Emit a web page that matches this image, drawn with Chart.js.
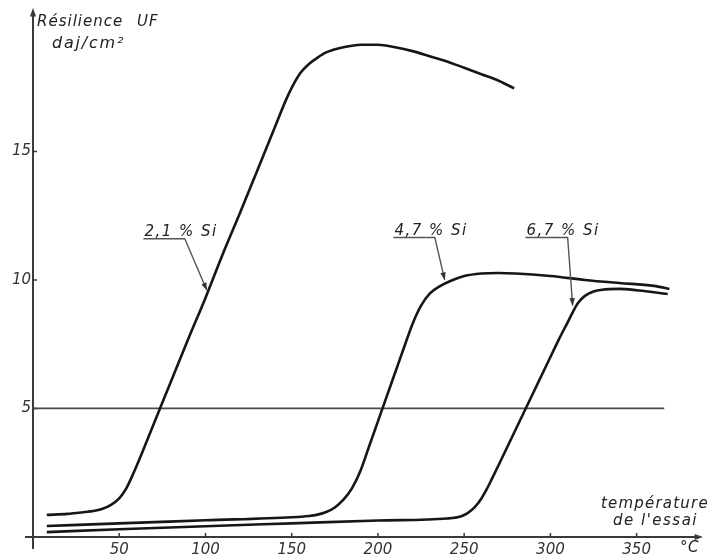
<!DOCTYPE html>
<html>
<head>
<meta charset="utf-8">
<script src="https://cdn.jsdelivr.net/npm/chart.js@4/dist/chart.umd.min.js"></script>
<style>
  html, body { margin: 0; padding: 0; background: #fff; }
  #chart { display: block; }
</style>
</head>
<body>
<canvas id="chart" width="711" height="555"></canvas>
<script>
'use strict';

// test temperature (°C) and UF resilience (daj/cm²)
const si21Temp = [8, 20, 30, 35, 40, 45, 50, 54, 58, 62, 70, 80, 90, 100, 110, 120, 130, 140, 148, 155, 160, 165, 170, 180, 190, 200, 210, 220, 230, 240, 250, 260, 270, 279];
const si21Res  = [0.86, 0.9, 0.97, 1.01, 1.09, 1.24, 1.5, 1.88, 2.44, 3.07, 4.4, 6.05, 7.7, 9.3, 11.0, 12.6, 14.25, 15.9, 17.2, 18.05, 18.4, 18.65, 18.85, 19.05, 19.15, 19.15, 19.05, 18.9, 18.7, 18.5, 18.25, 18.0, 17.75, 17.45];

const si47Temp = [8, 50, 100, 150, 160, 165, 170, 175, 180, 185, 190, 195, 200, 205, 210, 215, 220, 225, 230, 236, 242, 250, 260, 270, 280, 300, 320, 340, 360, 369];
const si47Res  = [0.43, 0.53, 0.65, 0.77, 0.82, 0.87, 0.97, 1.15, 1.45, 1.9, 2.6, 3.55, 4.5, 5.45, 6.4, 7.35, 8.28, 9.0, 9.47, 9.76, 9.96, 10.15, 10.25, 10.27, 10.25, 10.15, 10.0, 9.88, 9.77, 9.65];

const si67Temp = [8, 50, 100, 150, 200, 240, 248, 252, 256, 260, 263, 266, 270, 275, 280, 285, 290, 295, 300, 305, 310, 313, 316, 320, 325, 330, 340, 350, 360, 368];
const si67Res  = [0.19, 0.3, 0.42, 0.53, 0.64, 0.72, 0.8, 0.93, 1.15, 1.5, 1.85, 2.25, 2.8, 3.5, 4.2, 4.9, 5.6, 6.3, 7.0, 7.7, 8.35, 8.75, 9.1, 9.38, 9.55, 9.62, 9.65, 9.6, 9.52, 9.45];

const refTemp = [0, 366];
const refRes  = [5, 5];

const tempTicks = [50, 100, 150, 200, 250, 300, 350];
const resTicks  = [5, 10, 15];

const siLabels = ['2,1 % Si', '4,7 % Si', '6,7 % Si'];

// leader lines, in data units: label start, elbow, arrow tip
const leaders = [
    { labelX: 64,    elbowX: 88,  levelY: 11.6,  tipX: 100.8, tipY: 9.6 },
    { labelX: 209,   elbowX: 233, levelY: 11.65, tipX: 238.7, tipY: 10.0 },
    { labelX: 285.5, elbowX: 310, levelY: 11.65, tipX: 312.9, tipY: 9.0 }
];

const FONT = '"DejaVu Sans", sans-serif';
const INK = '#161616';
const GREY = '#3a3a3a';

function toPoints(xs, ys) {
    return xs.map(function (x, i) { return { x: x, y: ys[i] }; });
}

function curve(xs, ys) {
    return {
        data: toPoints(xs, ys),
        borderColor: INK,
        borderWidth: 2.6,
        pointRadius: 0,
        cubicInterpolationMode: 'monotone',
        fill: false
    };
}

function arrowHead(ctx, x1, y1, x2, y2, size) {
    var a = Math.atan2(y2 - y1, x2 - x1);
    ctx.beginPath();
    ctx.moveTo(x2, y2);
    ctx.lineTo(x2 - size * Math.cos(a - 0.35), y2 - size * Math.sin(a - 0.35));
    ctx.lineTo(x2 - size * Math.cos(a + 0.35), y2 - size * Math.sin(a + 0.35));
    ctx.closePath();
    ctx.fill();
}

function spacedText(ctx, text, x, y, spacing) {
    ctx.letterSpacing = spacing + 'px';
    ctx.fillText(text, x, y);
    ctx.letterSpacing = '0px';
}

var axesPlugin = {
    id: 'handAxes',
    beforeDatasetsDraw: function (chart) {
        var ctx = chart.ctx, xs = chart.scales.x, ys = chart.scales.y, area = chart.chartArea;
        var x0 = xs.getPixelForValue(0), y0 = ys.getPixelForValue(0);
        ctx.save();
        ctx.strokeStyle = GREY;
        ctx.fillStyle = GREY;
        ctx.lineWidth = 2;
        ctx.beginPath();
        ctx.moveTo(x0, y0 + 12);
        ctx.lineTo(x0, area.top + 2);
        ctx.moveTo(x0 - 8, y0);
        ctx.lineTo(area.right + 2, y0);
        ctx.stroke();
        arrowHead(ctx, x0, area.top + 10, x0, area.top - 2, 9);
        arrowHead(ctx, area.right - 6, y0, area.right + 6, y0, 9);

        ctx.lineWidth = 1.5;
        ctx.beginPath();
        resTicks.forEach(function (v) {
            var py = ys.getPixelForValue(v);
            ctx.moveTo(x0, py);
            ctx.lineTo(x0 + 4, py);
        });
        tempTicks.forEach(function (v) {
            var px = xs.getPixelForValue(v);
            ctx.moveTo(px, y0);
            ctx.lineTo(px, y0 - 4);
        });
        ctx.stroke();
        ctx.restore();
    },
    afterDatasetsDraw: function (chart) {
        var ctx = chart.ctx, xs = chart.scales.x, ys = chart.scales.y, area = chart.chartArea;
        ctx.save();
        ctx.fillStyle = '#222';
        ctx.textBaseline = 'alphabetic';

        // axis titles
        ctx.font = 'italic 15px ' + FONT;
        ctx.textAlign = 'left';
        spacedText(ctx, 'Résilience', area.left + 4, 26, 1);
        spacedText(ctx, 'UF', area.left + 104, 26, 1);
        ctx.font = 'italic 16px ' + FONT;
        spacedText(ctx, 'daj/cm²', area.left + 19, 48, 1.8);

        ctx.font = 'italic 15px ' + FONT;
        spacedText(ctx, 'température', 601, 508, 1.2);
        spacedText(ctx, 'de l\'essai', 613, 525, 1.5);
        spacedText(ctx, '°C', 680, 552, 0.5);

        // curve labels with leader lines
        leaders.forEach(function (l, i) {
            var lx = xs.getPixelForValue(l.labelX);
            var ex = xs.getPixelForValue(l.elbowX);
            var ly = ys.getPixelForValue(l.levelY);
            var tx = xs.getPixelForValue(l.tipX);
            var ty = ys.getPixelForValue(l.tipY);
            ctx.fillStyle = '#222';
            ctx.font = 'italic 15px ' + FONT;
            spacedText(ctx, siLabels[i], lx + 1, ly - 3, 1.5);
            ctx.strokeStyle = '#555';
            ctx.fillStyle = '#333';
            ctx.lineWidth = 1.4;
            ctx.beginPath();
            ctx.moveTo(lx, ly);
            ctx.lineTo(ex, ly);
            ctx.lineTo(tx, ty);
            ctx.stroke();
            arrowHead(ctx, ex, ly, tx, ty, 8);
        });
        ctx.restore();
    }
};

var chart = new Chart(document.getElementById('chart').getContext('2d'), {
    type: 'line',
    data: {
        datasets: [
            curve(si21Temp, si21Res),
            curve(si47Temp, si47Res),
            curve(si67Temp, si67Res),
            {
                data: toPoints(refTemp, refRes),
                borderColor: '#4a4a4a',
                borderWidth: 1.8,
                pointRadius: 0,
                tension: 0,
                fill: false
            }
        ]
    },
    options: {
        responsive: false,
        animation: false,
        events: [],
        layout: { padding: { left: 0, right: 14, top: 10, bottom: 0 } },
        plugins: {
            legend: { display: false },
            tooltip: { enabled: false }
        },
        scales: {
            x: {
                type: 'linear',
                min: 0,
                max: 385,
                grid: { display: false },
                border: { display: false },
                afterBuildTicks: function (scale) {
                    scale.ticks = tempTicks.map(function (v) { return { value: v }; });
                },
                afterFit: function (scale) { scale.height = 18; },
                ticks: {
                    color: '#333',
                    padding: -4,
                    maxRotation: 0,
                    font: { family: FONT, size: 15, style: 'italic' }
                }
            },
            y: {
                type: 'linear',
                min: 0,
                max: 20.5,
                grid: { display: false },
                border: { display: false },
                afterBuildTicks: function (scale) {
                    scale.ticks = resTicks.map(function (v) { return { value: v }; });
                },
                afterFit: function (scale) { scale.width = 33; },
                ticks: {
                    color: '#333',
                    padding: -6,
                    font: { family: FONT, size: 15, style: 'italic' }
                }
            }
        }
    },
    plugins: [axesPlugin]
});
</script>
</body>
</html>
